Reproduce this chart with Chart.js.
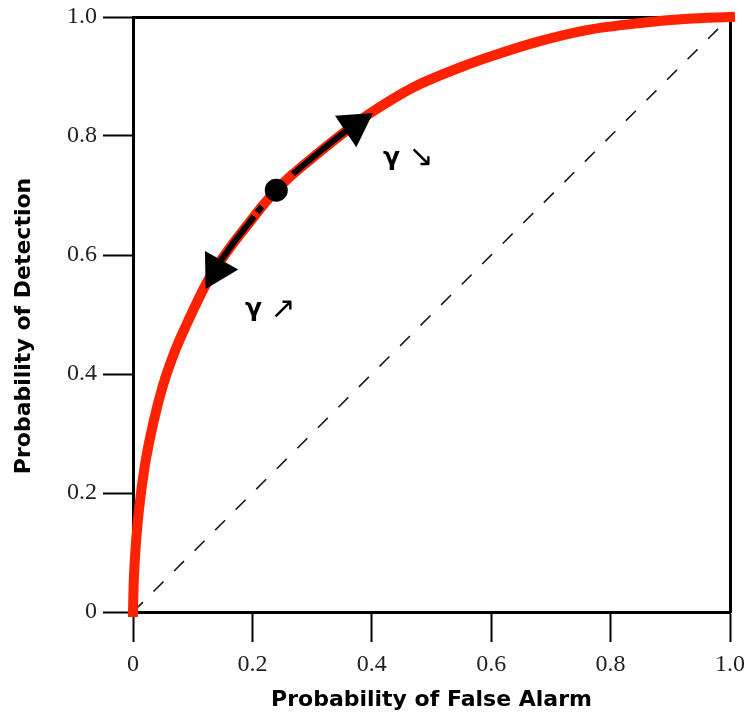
<!DOCTYPE html>
<html>
<head>
<meta charset="utf-8">
<script src="https://cdn.jsdelivr.net/npm/chart.js@4.4.1/dist/chart.umd.min.js"></script>
<style>
  html, body { margin: 0; padding: 0; background: #fff; }
  #roc { display: block; }
</style>
</head>
<body>
<canvas id="roc" width="747" height="718"></canvas>
<script>
// ===== ROC CURVE =====
// values
const curveX = [0, 0.001, 0.003, 0.006, 0.01, 0.02, 0.035, 0.05, 0.07, 0.09, 0.125, 0.16, 0.203, 0.208, 0.216, 0.24, 0.268, 0.30, 0.36, 0.40, 0.47, 0.55, 0.60, 0.68, 0.76, 0.85, 0.93, 1.0];
const curveY = [0, 0.044, 0.086, 0.129, 0.172, 0.247, 0.322, 0.38, 0.438, 0.484, 0.556, 0.609, 0.665, 0.6715, 0.6815, 0.709, 0.736, 0.763, 0.811, 0.840, 0.882, 0.916, 0.934, 0.959, 0.978, 0.99, 0.997, 1.0];
const chanceX = [0, 1];
const chanceY = [0, 1];
const operatingX = [0.24];
const operatingY = [0.709];
const arrowX = [0.3715, 0.1395];
const arrowY = [0.818, 0.575];
const arrowAngle = [56, 209];
// parts of the curve traced in black (x ranges)
const blackRuns = [[0.125, 0.203], [0.208, 0.216], [0.268, 0.36]];
const tickValues = [0, 0.2, 0.4, 0.6, 0.8, 1.0];
const tickLabels = ['0', '0.2', '0.4', '0.6', '0.8', '1.0'];
const noteText = ['γ', '↘', 'γ', '↗'];
const noteX = [0.4188, 0.4824, 0.1876, 0.2513];
const noteY = [0.762, 0.763, 0.5076, 0.5076];

const toPoints = (xs, ys) => xs.map((v, i) => ({ x: v, y: ys[i] }));

const inBlack = ctx => blackRuns.some(([a, b]) => ctx.p0.parsed.x >= a - 1e-9 && ctx.p1.parsed.x <= b + 1e-9);

const notesPlugin = {
  id: 'gammaNotes',
  afterDatasetsDraw(chart) {
    const { ctx, scales: { x, y } } = chart;
    ctx.save();
    ctx.fillStyle = '#000';
    ctx.textBaseline = 'middle';
    noteText.forEach((t, i) => {
      const arrow = t !== 'γ';
      ctx.font = arrow ? '30px "DejaVu Sans"' : 'bold 25px "DejaVu Sans"';
      ctx.textAlign = arrow ? 'center' : 'left';
      ctx.fillText(t, x.getPixelForValue(noteX[i]), y.getPixelForValue(noteY[i]));
    });
    ctx.restore();
  }
};

const tickFont = { family: '"Liberation Serif", "Times New Roman", serif', size: 24 };
const titleFont = { family: '"DejaVu Sans", Verdana, sans-serif', size: 22, weight: 'bold' };
const fixTicks = scale => { scale.ticks = tickValues.map(v => ({ value: v })); };
const noPad = s => { s.paddingLeft = 0; s.paddingRight = 0; s.paddingTop = 0; s.paddingBottom = 0; };

new Chart(document.getElementById('roc'), {
  type: 'line',
  data: {
    datasets: [
      {
        label: 'chance', data: toPoints(chanceX, chanceY), order: 5,
        borderColor: '#1a1a1a', borderWidth: 1.6, borderDash: [14, 15],
        pointRadius: 0, xAxisID: 'x', yAxisID: 'y'
      },
      {
        label: 'ROC', data: toPoints(curveX, curveY), order: 4,
        borderColor: '#ff2200', borderWidth: 10, borderCapStyle: 'square',
        cubicInterpolationMode: 'monotone', pointRadius: 0, clip: false,
        xAxisID: 'x', yAxisID: 'y'
      },
      {
        label: 'trace', data: toPoints(curveX, curveY), order: 3,
        borderColor: 'transparent', borderWidth: 6,
        cubicInterpolationMode: 'monotone', pointRadius: 0,
        segment: { borderColor: ctx => inBlack(ctx) ? '#000' : 'transparent' },
        xAxisID: 'x', yAxisID: 'y'
      },
      {
        type: 'scatter', label: 'arrows', data: toPoints(arrowX, arrowY), order: 2,
        pointStyle: 'triangle', pointRadius: 22, rotation: arrowAngle,
        backgroundColor: '#000', borderWidth: 0, xAxisID: 'x', yAxisID: 'y'
      },
      {
        type: 'scatter', label: 'operating point', data: toPoints(operatingX, operatingY), order: 1,
        pointRadius: 11.5, backgroundColor: '#000', borderWidth: 0,
        xAxisID: 'x', yAxisID: 'y'
      }
    ]
  },
  options: {
    responsive: false,
    animation: false,
    events: [],
    layout: { padding: 0, autoPadding: false },
    plugins: { legend: { display: false }, tooltip: { enabled: false } },
    scales: {
      x: {
        type: 'linear', position: 'bottom', min: 0, max: 1,
        afterBuildTicks: fixTicks,
        afterFit: s => { s.height = 106; noPad(s); },
        ticks: { callback: (v, i) => tickLabels[i], font: tickFont, color: '#222', padding: 8, maxRotation: 0, autoSkip: false },
        grid: { drawOnChartArea: false, tickLength: 30, tickWidth: 2, tickColor: '#000' },
        border: { color: '#000', width: 3 },
        title: { display: true, text: 'Probability of False Alarm', font: titleFont, color: '#000', padding: { top: 0, bottom: 5 } }
      },
      y: {
        type: 'linear', position: 'left', min: 0, max: 1,
        afterBuildTicks: fixTicks,
        afterFit: s => { s.width = 133; noPad(s); },
        ticks: { callback: (v, i) => tickLabels[i], font: tickFont, color: '#222', padding: 6, autoSkip: false },
        grid: { drawOnChartArea: false, tickLength: 30, tickWidth: 2, tickColor: '#000' },
        border: { color: '#000', width: 3 },
        title: { display: true, text: 'Probability of Detection   ', font: titleFont, color: '#000', padding: { top: 11, bottom: 0 } }
      },
      x2: {
        type: 'linear', position: 'top', min: 0, max: 1,
        afterFit: s => { s.height = 17; noPad(s); },
        ticks: { display: false },
        grid: { drawOnChartArea: false, drawTicks: false },
        border: { color: '#000', width: 3 }
      },
      y2: {
        type: 'linear', position: 'right', min: 0, max: 1,
        afterFit: s => { s.width = 17; noPad(s); },
        ticks: { display: false },
        grid: { drawOnChartArea: false, drawTicks: false },
        border: { color: '#000', width: 3 }
      }
    }
  },
  plugins: [notesPlugin]
});
</script>
</body>
</html>
